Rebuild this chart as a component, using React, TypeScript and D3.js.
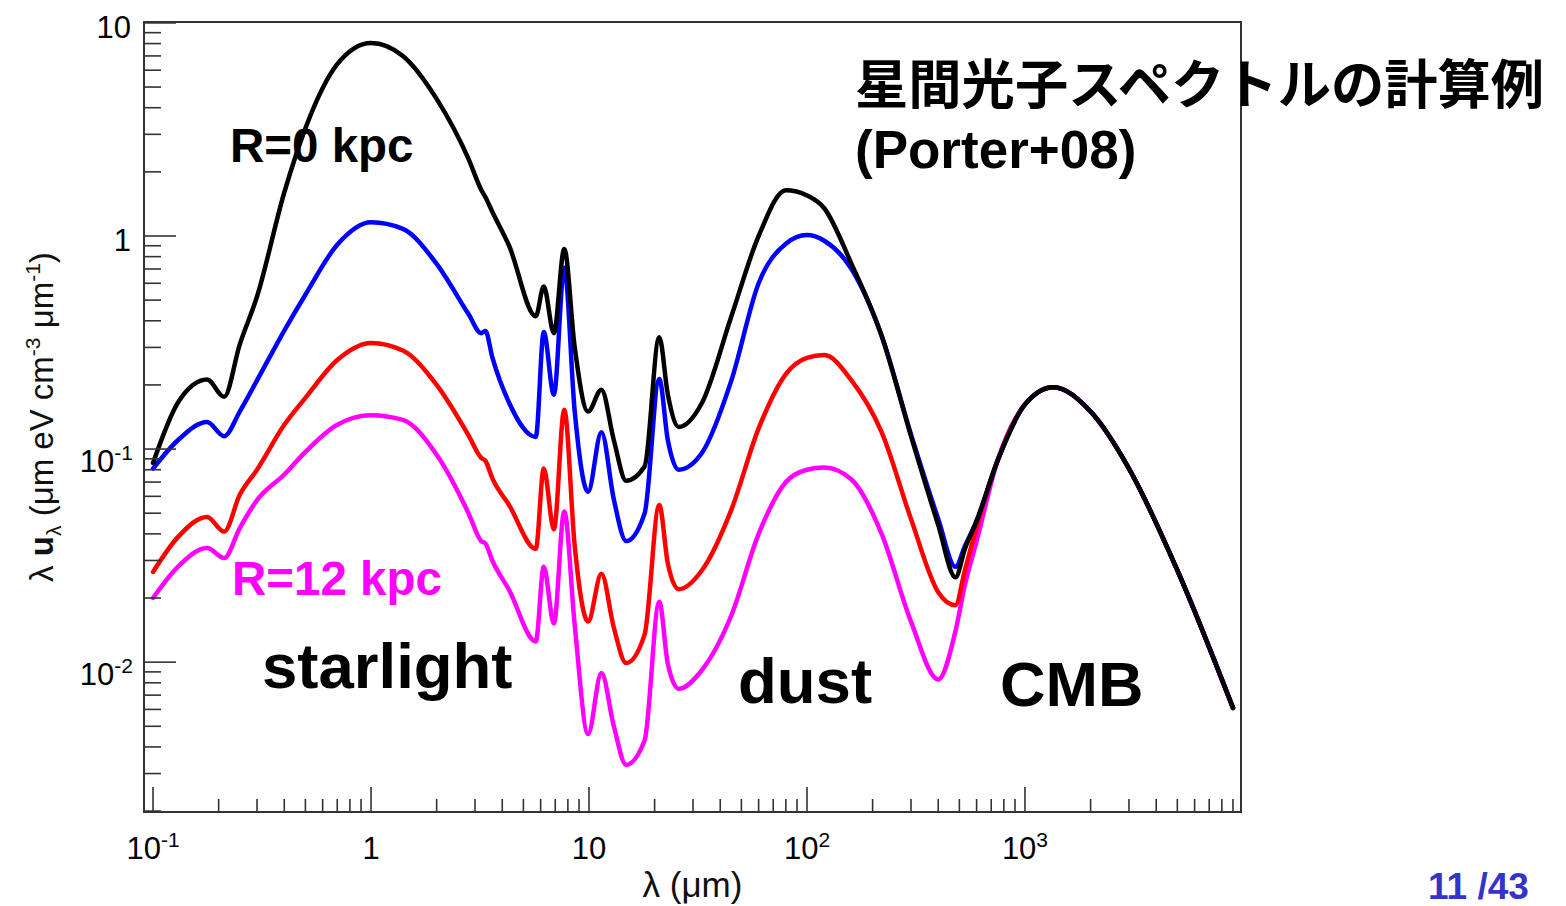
import React from 'react';
import * as d3 from 'd3';

// wavelength grid (micrometres)
const wavelength = [0.1, 0.13, 0.177, 0.212, 0.25, 0.3, 0.4, 0.5, 0.7, 1.0, 1.4, 2.0, 2.8, 3.2, 3.35, 3.6, 4.3, 5.7, 6.2, 6.9, 7.7, 8.6, 9.9, 11.4, 13, 14.8, 18, 21, 23, 25.8, 33, 45, 60, 80, 100, 120, 160, 220, 300, 400, 480, 530, 600, 750, 1000, 1350, 2000, 3000, 5000, 9000];

// R = 0 kpc (black)
const seriesBlack = [0.086, 0.165, 0.212, 0.176, 0.31, 0.52, 1.6, 3.2, 6.4, 8.05, 7.0, 4.4, 2.3, 1.65, 1.52, 1.3, 0.9, 0.42, 0.58, 0.35, 0.87, 0.3, 0.15, 0.19, 0.11, 0.071, 0.083, 0.335, 0.18, 0.127, 0.165, 0.42, 1.0, 1.64, 1.55, 1.35, 0.74, 0.34, 0.115, 0.044, 0.025, 0.034, 0.046, 0.0887, 0.162, 0.195, 0.15, 0.081, 0.027, 0.0061];
// intermediate radius (blue)
const seriesBlue = [0.081, 0.11, 0.134, 0.115, 0.15, 0.21, 0.36, 0.53, 0.91, 1.16, 1.08, 0.74, 0.43, 0.35, 0.358, 0.27, 0.165, 0.114, 0.354, 0.18, 0.71, 0.15, 0.063, 0.12, 0.058, 0.037, 0.05, 0.213, 0.11, 0.08, 0.096, 0.21, 0.6, 0.92, 1.01, 0.95, 0.7, 0.34, 0.117, 0.047, 0.028, 0.035, 0.046, 0.0887, 0.162, 0.195, 0.15, 0.081, 0.027, 0.0061];
// intermediate radius (red)
const seriesRed = [0.0265, 0.0386, 0.048, 0.041, 0.061, 0.08, 0.13, 0.174, 0.262, 0.315, 0.29, 0.2, 0.116, 0.091, 0.088, 0.073, 0.0546, 0.034, 0.081, 0.042, 0.153, 0.035, 0.0155, 0.026, 0.0145, 0.0099, 0.0135, 0.0546, 0.029, 0.022, 0.027, 0.052, 0.125, 0.225, 0.268, 0.276, 0.21, 0.12, 0.047, 0.0213, 0.0185, 0.027, 0.043, 0.0887, 0.162, 0.195, 0.15, 0.081, 0.027, 0.0061];
// R = 12 kpc (magenta)
const seriesMagenta = [0.02, 0.028, 0.0343, 0.0308, 0.0426, 0.0576, 0.076, 0.097, 0.13, 0.144, 0.137, 0.094, 0.05, 0.037, 0.036, 0.03, 0.0218, 0.0125, 0.028, 0.0152, 0.051, 0.0149, 0.0046, 0.0089, 0.005, 0.0033, 0.0043, 0.0192, 0.0098, 0.0075, 0.0092, 0.0166, 0.04, 0.07, 0.08, 0.082, 0.072, 0.04, 0.0155, 0.0083, 0.014, 0.023, 0.037, 0.0887, 0.162, 0.195, 0.15, 0.081, 0.027, 0.0061];

const xMajorTicks = [0.1, 1, 10, 100, 1000];
const xTickBase = ['10', '1', '10', '10', '10'];
const xTickExp = ['-1', '', '', '2', '3'];
const yMajorTicks = [0.01, 0.1, 1, 10];
const yTickBase = ['10', '10', '1', '10'];
const yTickExp = ['-2', '-1', '', ''];

const W = 1566;
const H = 906;
const L = 144, R = 1241, T = 22, B = 812;

export default function App() {
  const x = d3.scaleLog().domain([0.0909, 9795]).range([L, R]);
  const y = d3.scaleLog().domain([0.00198, 10.1]).range([B, T]);

  const line = d3
    .line<[number, number]>()
    .x((d) => x(d[0]))
    .y((d) => y(d[1]))
    .curve(d3.curveMonotoneX);

  const series = [
    { values: seriesMagenta, color: '#ff00ff' },
    { values: seriesRed, color: '#ff0000' },
    { values: seriesBlue, color: '#0000ff' },
    { values: seriesBlack, color: '#000000' },
  ];

  const isMajor = (v: number) => Math.abs(Math.log10(v) - Math.round(Math.log10(v))) < 1e-6;
  const xMinor = x.ticks().filter((v) => !isMajor(v) && v >= x.domain()[0] && v <= x.domain()[1]);
  const yMinor = y.ticks().filter((v) => !isMajor(v) && v >= y.domain()[0] && v <= y.domain()[1]);

  const font = "'Liberation Sans', Arial, Helvetica, sans-serif";

  return (
    <svg width={W} height={H} style={{ position: 'absolute', left: 0, top: 0, background: '#fff' }} fontFamily={font}>
      <rect x={0} y={0} width={W} height={H} fill="#fff" />
      <defs>
        <clipPath id="clipPlot">
          <rect x={L} y={T} width={R - L} height={B - T} />
        </clipPath>
      </defs>
      {/* curves */}
      <g clipPath="url(#clipPlot)">
        {series.map((s, i) => (
          <path
            key={i}
            d={line(wavelength.map((w, k) => [w, s.values[k]] as [number, number])) || ''}
            fill="none"
            stroke={s.color}
            strokeWidth={4.5}
            strokeLinejoin="round"
            strokeLinecap="round"
          />
        ))}
      </g>
      {/* frame */}
      <rect x={L} y={T} width={R - L} height={B - T} fill="none" stroke="#333" strokeWidth={2} />
      {/* x ticks */}
      {xMajorTicks.map((v) => (
        <line key={'xM' + v} x1={x(v)} x2={x(v)} y1={B} y2={B - 25} stroke="#333" strokeWidth={1.6} />
      ))}
      {xMinor.map((v) => (
        <line key={'xm' + v} x1={x(v)} x2={x(v)} y1={B} y2={B - 13} stroke="#333" strokeWidth={1.6} />
      ))}
      {/* y ticks */}
      {yMajorTicks.map((v) => (
        <line key={'yM' + v} x1={L} x2={L + 32} y1={y(v)} y2={y(v)} stroke="#333" strokeWidth={1.6} />
      ))}
      {yMinor.map((v) => (
        <line key={'ym' + v} x1={L} x2={L + 17} y1={y(v)} y2={y(v)} stroke="#333" strokeWidth={1.6} />
      ))}
      {/* x tick labels */}
      {xMajorTicks.map((v, i) => (
        <text key={'xl' + v} x={x(v)} y={859} textAnchor="middle" fontSize={31} fill="#000">
          <tspan>{xTickBase[i]}</tspan>
          {xTickExp[i] && (
            <tspan dy={-12} fontSize={21}>
              {xTickExp[i]}
            </tspan>
          )}
        </text>
      ))}
      {/* y tick labels */}
      {yMajorTicks.map((v, i) => (
        <text
          key={'yl' + v}
          x={yTickExp[i] ? 133 : 131}
          y={y(v) + (yTickExp[i] ? 23 : 15)}
          textAnchor="end"
          fontSize={31}
          fill="#000"
        >
          <tspan>{yTickBase[i]}</tspan>
          {yTickExp[i] && (
            <tspan dy={-12} fontSize={21}>
              {yTickExp[i]}
            </tspan>
          )}
        </text>
      ))}
      {/* axis titles */}
      <text x={(L + R) / 2} y={897} textAnchor="middle" fontSize={35} fill="#111">
        λ (μm)
      </text>
      <text transform={`translate(53,${(T + B) / 2}) rotate(-90)`} textAnchor="middle" fontSize={33} fill="#111">
        <tspan>λ </tspan>
        <tspan fontWeight="bold">u</tspan>
        <tspan dy={8} fontSize={21}>λ</tspan>
        <tspan dy={-8}> (μm eV cm</tspan>
        <tspan dy={-13} fontSize={21}>-3</tspan>
        <tspan dy={13}> μm</tspan>
        <tspan dy={-13} fontSize={21}>-1</tspan>
        <tspan dy={13}>)</tspan>
      </text>
      {/* annotations */}
      <text x={230} y={162} fontSize={47.5} fontWeight="bold" fill="#000">R=0 kpc</text>
      <text x={232} y={595} fontSize={47.5} fontWeight="bold" fill="#ff00ff">R=12 kpc</text>
      <text x={262} y={688} fontSize={63.5} fontWeight="bold" fill="#000">starlight</text>
      <text x={738} y={703} fontSize={63.5} fontWeight="bold" fill="#000">dust</text>
      <text x={1000} y={706} fontSize={63} fontWeight="bold" fill="#000">CMB</text>
      <text x={855} y={104} fontSize={53.3} fontWeight="bold" fill="#000" fontFamily="'Noto Sans CJK JP', sans-serif">
        星間光子スペクトルの計算例
      </text>
      <text x={855} y={168} fontSize={53} fontWeight="bold" fill="#000">(Porter+08)</text>
      <text x={1428} y={899} fontSize={37} fontWeight="bold" fill="#3434c8">11 /43</text>
    </svg>
  );
}
